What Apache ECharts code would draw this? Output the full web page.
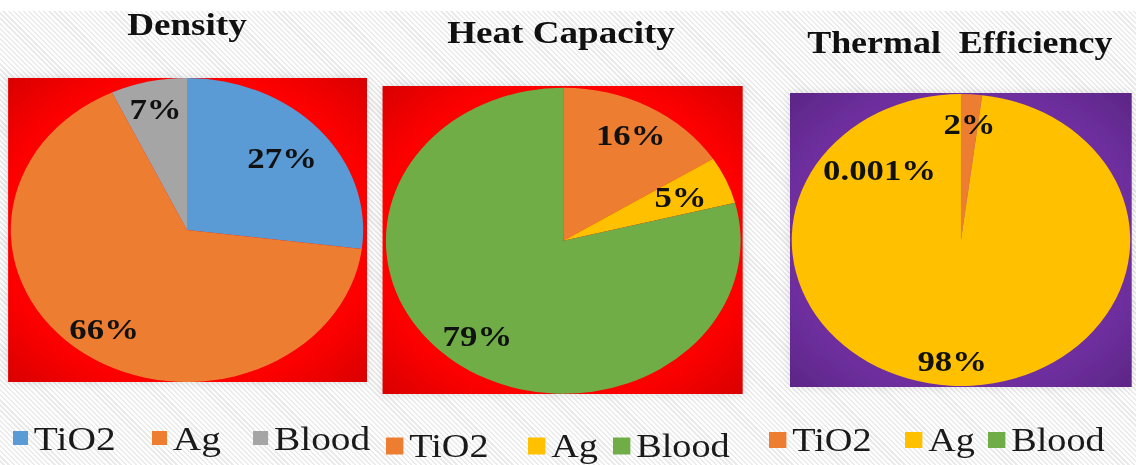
<!DOCTYPE html>
<html>
<head>
<meta charset="utf-8">
<script src="https://cdn.jsdelivr.net/npm/echarts@6/dist/echarts.min.js"></script>
<style>
  html, body { margin: 0; padding: 0; }
  body {
    width: 1136px; height: 465px; overflow: hidden; position: relative;
    background: repeating-linear-gradient(45deg, #ffffff 0px, #ffffff 2px, #ebebeb 2px, #ebebeb 3.6px);
  }
  #topband { position: absolute; left: 0; top: 0; width: 1136px; height: 11px; background: #fff; }
  /* the chart is laid out on a narrower canvas and stretched horizontally */
  #chart {
    position: absolute; left: 0; top: 0; width: 980px; height: 465px;
    transform: scaleX(1.1592); transform-origin: 0 0;
  }
</style>
</head>
<body>
<div id="topband"></div>
<div id="chart"></div>
<script>
// categories shared by the three pies
const CATEGORIES = ['TiO2', 'Ag', 'Blood'];
const TITLES = ['Density', 'Heat Capacity', 'Thermal  Efficiency'];

// share of each component, in percent
const densityValues = [27, 66, 7];
const heatCapacityValues = [16, 5, 79];
const thermalEfficiencyValues = [2, 98, 0.001];

// slice colours per pie, in category order
const densityColors = ['#5B9BD5', '#ED7D31', '#A5A5A5'];
const heatCapacityColors = ['#ED7D31', '#FFC000', '#70AD47'];
const thermalEfficiencyColors = ['#ED7D31', '#FFC000', '#70AD47'];

const FONT = "'Liberation Serif', 'Times New Roman', serif";

function plotFill(c0, c1, c2) {
  return {
    type: 'radial', x: 0.5, y: 0.5, r: 0.72,
    colorStops: [{ offset: 0, color: c0 }, { offset: 0.72, color: c1 }, { offset: 1, color: c2 }]
  };
}

// layout of each panel (chart pixels before the horizontal stretch)
const panels = [
  {
    values: densityValues, colors: densityColors, title: TITLES[0],
    center: [161.3, 230], radius: 152,
    box: { x: 7, y: 78, width: 309.6, height: 304 },
    fill: plotFill('#ff0000', '#fd0000', '#d60000'),
    titleX: 161.3, titleY: 24, titleSize: 32,
    labelDist: [0.72, 0.80, 0.82], labelAngle: [null, null, null],
    legend: { lefts: [11.2, 131.1, 218.3], center: 438, font: 34, w: 13, h: 14 }
  },
  {
    values: heatCapacityValues, colors: heatCapacityColors, title: TITLES[1],
    center: [485.9, 240.8], radius: 153,
    box: { x: 330, y: 86, width: 310.7, height: 308 },
    fill: plotFill('#ff0000', '#fd0000', '#d60000'),
    titleX: 484, titleY: 32, titleSize: 32,
    labelDist: [0.79, 0.72, 0.79], labelAngle: [null, null, null],
    legend: { lefts: [333, 455.5, 528.8], center: 446, font: 33, w: 15, h: 17 }
  },
  {
    values: thermalEfficiencyValues, colors: thermalEfficiencyColors, title: TITLES[2],
    center: [829, 240], radius: 146,
    box: { x: 681.5, y: 93, width: 294.8, height: 294 },
    fill: plotFill('#7030a0', '#6e2f9e', '#5a2584'),
    titleX: 828, titleY: 42, titleSize: 31,
    labelDist: [0.80, 0.83, 0.68], labelAngle: [null, null, 315],
    legend: { lefts: [663.4, 780.7, 852.3], center: 440, font: 33, w: 15, h: 16 }
  }
];

// label anchor: along the slice's middle angle unless an angle is given
function labelPoint(p, idx) {
  const total = p.values.reduce((a, b) => a + b, 0);
  let before = 0;
  for (let i = 0; i < idx; i++) before += p.values[i];
  let ang = (before + p.values[idx] / 2) / total * 360;
  if (p.labelAngle[idx] !== null) ang = p.labelAngle[idx];
  const rad = ang * Math.PI / 180;
  const d = p.labelDist[idx] * p.radius;
  return [p.center[0] + d * Math.sin(rad), p.center[1] - d * Math.cos(rad)];
}

const graphic = [];
panels.forEach(p => {
  graphic.push({
    type: 'rect', z: -10, silent: true,
    shape: p.box,
    style: { fill: p.fill, shadowBlur: 10, shadowColor: 'rgba(0,0,0,0.12)' }
  });
  graphic.push({
    type: 'text', z: 10, silent: true,
    x: p.titleX, y: p.titleY,
    style: {
      text: p.title, fill: '#111', align: 'center', verticalAlign: 'middle',
      font: 'bold ' + p.titleSize + 'px ' + FONT
    }
  });
});

const series = panels.map((p, si) => ({
  type: 'pie',
  name: p.title,
  center: p.center,
  radius: p.radius,
  startAngle: 90,
  clockwise: true,
  silent: true,
  avoidLabelOverlap: false,
  itemStyle: { borderWidth: 0 },
  label: {
    show: true, position: 'inside',
    formatter: prm => prm.value + '%',
    color: '#111', fontWeight: 'bold', fontSize: 30, fontFamily: FONT
  },
  labelLine: { show: false },
  labelLayout: prm => {
    const pt = labelPoint(panels[prm.seriesIndex], prm.dataIndex);
    return { x: pt[0], y: pt[1], align: 'center', verticalAlign: 'middle' };
  },
  data: CATEGORIES.map((c, i) => ({ name: c, value: p.values[i], itemStyle: { color: p.colors[i] } }))
}));

// one legend entry per category and panel, so each entry sits where its panel needs it
const legend = [];
panels.forEach(p => {
  CATEGORIES.forEach((c, i) => {
    legend.push({
      left: p.legend.lefts[i],
      top: p.legend.center - p.legend.font / 2,
      orient: 'horizontal',
      padding: 0,
      selectedMode: false,
      icon: 'rect',
      itemWidth: p.legend.w,
      itemHeight: p.legend.h,
      itemStyle: { borderWidth: 0 },
      textStyle: { fontSize: p.legend.font, fontFamily: FONT, color: '#1a1a1a' },
      data: [{ name: c, itemStyle: { color: p.colors[i] } }]
    });
  });
});

const chart = echarts.init(document.getElementById('chart'), null, { renderer: 'svg', width: 980, height: 465 });
chart.setOption({
  animation: false,
  backgroundColor: 'transparent',
  graphic: graphic,
  legend: legend,
  series: series
});
</script>
</body>
</html>
